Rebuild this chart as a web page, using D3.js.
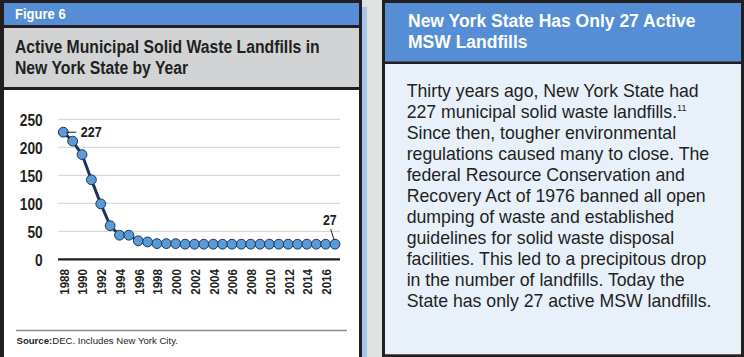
<!DOCTYPE html>
<html>
<head>
<meta charset="utf-8">
<script src="https://cdn.jsdelivr.net/npm/d3@7"></script>
<style>
  html, body { margin: 0; padding: 0; background: #dfe2e2; }
  svg { display: block; }
  .bold { font-family: "Liberation Sans", Arial, Helvetica, sans-serif; font-weight: bold; }
  .reg { font-family: "Liberation Sans", Arial, Helvetica, sans-serif; }
</style>
</head>
<body>
<svg id="fig" width="744" height="357"></svg>
<script>
// ---- data ----
const years = [1988,1989,1990,1991,1992,1993,1994,1995,1996,1997,1998,1999,2000,2001,2002,
               2003,2004,2005,2006,2007,2008,2009,2010,2011,2012,2013,2014,2015,2016,2017];
const landfills = [227,211,187,142,99,60,43,43,33,31,28,28,28,27,27,
                   27,27,27,27,27,27,27,27,27,27,27,27,27,27,27];
const yTicks = [0,50,100,150,200,250];
const xTickYears = [1988,1990,1992,1994,1996,1998,2000,2002,2004,2006,2008,2010,2012,2014,2016];
const figureLabel = "Figure 6";
const chartTitle = ["Active Municipal Solid Waste Landfills in", "New York State by Year"];
const sideTitle = ["New York State Has Only 27 Active", "MSW Landfills"];
const bodyLines = [
  "Thirty years ago, New York State had",
  "227 municipal solid waste landfills.",
  "Since then, tougher environmental",
  "regulations caused many to close. The",
  "federal Resource Conservation and",
  "Recovery Act of 1976 banned all open",
  "dumping of waste and established",
  "guidelines for solid waste disposal",
  "facilities. This led to a precipitous drop",
  "in the number of landfills. Today the",
  "State has only 27 active MSW landfills."
];

const svg = d3.select("#fig");
const dark = "#231f20", blue = "#558ed5";
const COND = 0.86; // horizontal condensing for narrow bold labels

// ---- frames ----
svg.append("rect").attr("x",0).attr("y",0).attr("width",744).attr("height",357).attr("fill","#dfe2e2");
svg.append("rect").attr("x",362).attr("y",7).attr("width",5).attr("height",350).attr("fill","#a9c5e8");
// left panel
svg.append("rect").attr("x",0).attr("y",0).attr("width",362).attr("height",357).attr("fill",dark);
svg.append("rect").attr("x",4).attr("y",3).attr("width",355).attr("height",22).attr("fill",blue);
svg.append("rect").attr("x",4).attr("y",28).attr("width",355).attr("height",59).attr("fill","#d1d3d4");
svg.append("rect").attr("x",4).attr("y",90).attr("width",355).attr("height",267).attr("fill","#ffffff");
// right panel
svg.append("rect").attr("x",382).attr("y",0).attr("width",362).attr("height",357).attr("fill",dark);
svg.append("rect").attr("x",385).attr("y",3).attr("width",356).attr("height",58.5).attr("fill",blue);
svg.append("rect").attr("x",385).attr("y",64).attr("width",356).attr("height",290.3).attr("fill","#e8f0fa");

// condensed text helper
function condText(parent, x, y, size, txt, anchor, fill, sx) {
  return parent.append("g").attr("transform",`translate(${x},${y}) scale(${sx},1)`)
    .append("text").attr("class","bold").attr("font-size",size)
    .attr("text-anchor",anchor||"start").attr("fill",fill).text(txt);
}

// ---- left header texts ----
condText(svg, 15, 19.3, 15, figureLabel, "start", "#fff", 0.87);
chartTitle.forEach((t,i) => condText(svg, 15, 53.4+i*20.7, 17.6, t, "start", dark, 0.895));

// ---- right texts ----
svg.append("g").selectAll("text").data(sideTitle).join("text")
  .attr("class","bold").attr("x",408).attr("y",(d,i)=>26.8+i*21.6)
  .attr("font-size",17.5).attr("fill","#fff").text(d=>d);
const body = svg.append("g").attr("class","reg").attr("font-size",17.7).attr("fill",dark);
bodyLines.forEach((line,i) => {
  const t = body.append("text").attr("x",406.7).attr("y",97.3+i*21);
  t.append("tspan").text(line);
  if (i === 1) t.append("tspan").attr("font-size",9).attr("dy",-7.5).text("11");
});

// ---- chart ----
const x = d3.scaleLinear().domain([1988,2017]).range([63.3,335]);
const y = d3.scaleLinear().domain([0,250]).range([259.3,119.3]);

// gridlines
svg.append("g").selectAll("line").data(yTicks.filter(d=>d>0)).join("line")
  .attr("x1",58).attr("x2",340).attr("y1",d=>y(d)).attr("y2",d=>y(d))
  .attr("stroke","#cfd0d2").attr("stroke-width",1);

// y axis
const yAxis = svg.append("g").attr("transform","translate(58,0)")
  .call(d3.axisLeft(y).tickValues(yTicks).tickSize(0));
yAxis.select(".domain").remove();
yAxis.selectAll("text").attr("class","bold").attr("font-size",16).attr("fill",dark)
  .attr("transform",`scale(${COND},1)`).attr("x",-15.3/COND).attr("dy","0.36em");

// x axis
const xAxis = svg.append("g").attr("transform",`translate(0,${y(0)})`)
  .call(d3.axisBottom(x).tickValues(xTickYears).tickFormat(d3.format("d")).tickSize(0));
xAxis.select(".domain").attr("d","M58,0H340").attr("stroke",dark).attr("stroke-width",2.2);
xAxis.selectAll("text").attr("class","bold").attr("font-size",13.5).attr("fill",dark)
  .attr("transform",`rotate(-90) scale(${COND},1)`).attr("text-anchor","end")
  .attr("x",-9.7/COND).attr("y",0).attr("dy","0.36em");

// line
const line = d3.line().x((d,i)=>x(years[i])).y(d=>y(d));
svg.append("path").datum(landfills).attr("d",line)
  .attr("fill","none").attr("stroke","#1c355e").attr("stroke-width",3);
// markers
svg.append("g").selectAll("circle").data(landfills).join("circle")
  .attr("cx",(d,i)=>x(years[i])).attr("cy",d=>y(d)).attr("r",4.9)
  .attr("fill","#5b9bd5").attr("stroke","#1c355e").attr("stroke-width",1);

// annotations
const first = landfills[0], last = landfills[landfills.length-1];
const x0 = x(years[0]), xN = x(years[years.length-1]);
svg.append("line").attr("x1",x0+3).attr("x2",x0+13)
  .attr("y1",y(first)).attr("y2",y(first)).attr("stroke",dark).attr("stroke-width",1);
condText(svg, x0+17.5, y(first)+5.3, 15, first, "start", dark, 0.84);
svg.append("line").attr("x1",xN-4.3).attr("x2",xN-1)
  .attr("y1",y(last)-15).attr("y2",y(last)-4.5).attr("stroke",dark).attr("stroke-width",1);
condText(svg, xN+1.7, y(last)-19.3, 15.5, last, "end", dark, 0.8);

// source
svg.append("line").attr("x1",16).attr("x2",347).attr("y1",330.5).attr("y2",330.5)
  .attr("stroke","#8a8c8e").attr("stroke-width",1.5);
const src = svg.append("text").attr("class","reg").attr("x",16.5).attr("y",343.5)
  .attr("font-size",9.6).attr("fill",dark);
src.append("tspan").attr("font-weight","bold").text("Source:");
src.append("tspan").text("DEC. Includes New York City.");
</script>
</body>
</html>
